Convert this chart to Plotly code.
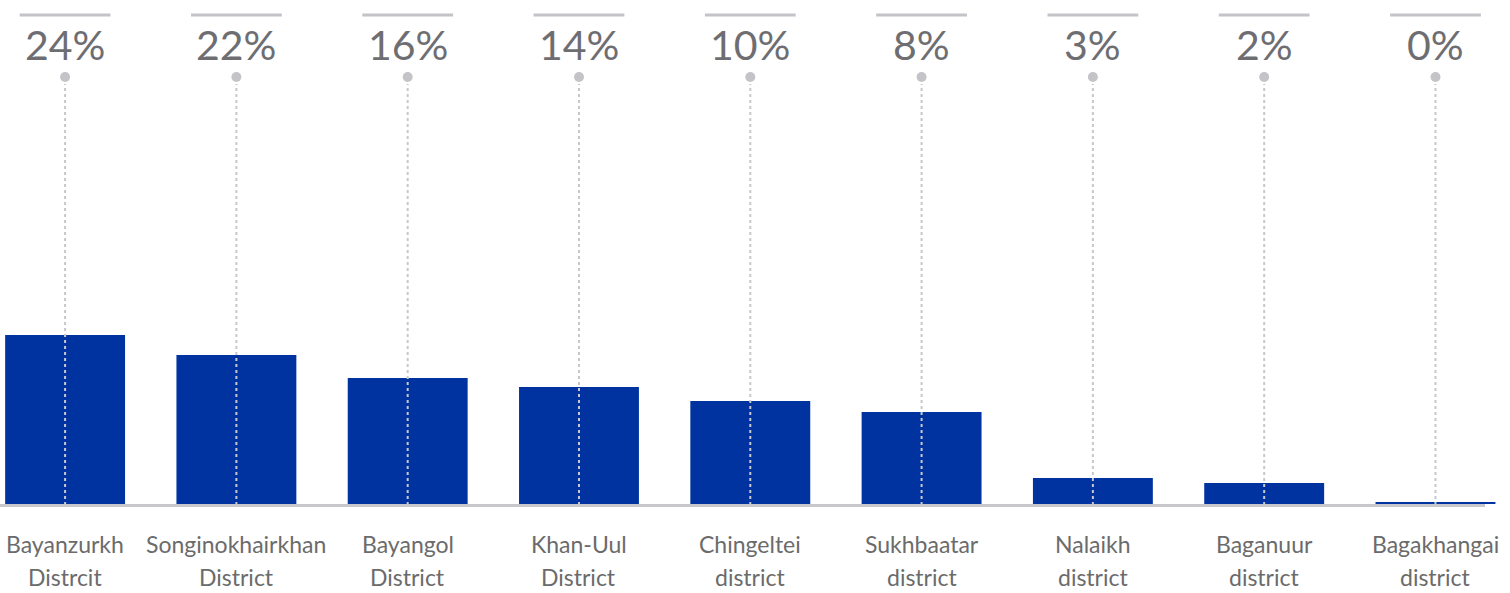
import plotly.graph_objects as go

# ---- data ----
districts = ["Bayanzurkh", "Songinokhairkhan", "Bayangol", "Khan-Uul", "Chingeltei",
             "Sukhbaatar", "Nalaikh", "Baganuur", "Bagakhangai"]
district_suffix = ["Distrcit", "District", "District", "District", "district",
                   "district", "district", "district", "district"]
bar_values = [169, 149, 126, 117, 103, 92, 26, 21, 2]
pct_labels = ["24%", "22%", "16%", "14%", "10%", "8%", "3%", "2%", "0%"]

# ---- styling ----
W, H = 1510, 593
M_B = 89
PLOT_H = H - M_B
BAR_COLOR = "#0033a0"
GREY_LINE = "#c4c4c8"
TEXT_GREY = "#6e6e72"
LABEL_GREY = "#6b6b6b"
FONT = "Lato"


def py(p):
    """pixel row -> paper y"""
    return (PLOT_H - p) / PLOT_H


fig = go.Figure()
fig.add_trace(go.Bar(x=districts, y=bar_values, marker=dict(color=BAR_COLOR, line=dict(width=0)),
                     hoverinfo="skip", showlegend=False))

shapes = []
annotations = []
for i, (d, s, p) in enumerate(zip(districts, district_suffix, pct_labels)):
    # dotted vertical guide
    shapes.append(dict(type="line", xref="x", yref="paper", x0=i, x1=i,
                       y0=py(505), y1=py(84), layer="above",
                       line=dict(color="#c8c8cc", width=2, dash="dot")))
    # top grey rule
    shapes.append(dict(type="line", xref="x", yref="paper", x0=i - 0.265, x1=i + 0.265,
                       y0=py(15), y1=py(15), layer="above",
                       line=dict(color=GREY_LINE, width=3)))
    # dot
    shapes.append(dict(type="circle", xref="x", yref="paper", xsizemode="pixel", ysizemode="pixel",
                       xanchor=i, yanchor=py(77), x0=-5, x1=5, y0=-5, y1=5,
                       fillcolor=GREY_LINE, line=dict(width=0), layer="above"))
    annotations.append(dict(x=d, xref="x", y=py(44), yref="paper", text=p, showarrow=False,
                            xanchor="center", yanchor="middle",
                            font=dict(family=FONT, size=41, color=TEXT_GREY)))
    annotations.append(dict(x=d, xref="x", y=py(544), yref="paper", text=d, showarrow=False,
                            xanchor="center", yanchor="middle",
                            font=dict(family=FONT, size=23, color=LABEL_GREY)))
    annotations.append(dict(x=d, xref="x", y=py(577), yref="paper", text=s, showarrow=False,
                            xanchor="center", yanchor="middle",
                            font=dict(family=FONT, size=23, color=LABEL_GREY)))

# baseline
shapes.append(dict(type="line", xref="paper", yref="paper", x0=0, x1=1485 / W,
                   y0=py(505.5), y1=py(505.5), layer="above",
                   line=dict(color="#c8c8cc", width=3)))

fig.update_layout(
    width=W, height=H,
    margin=dict(l=0, r=0, t=0, b=M_B),
    paper_bgcolor="white", plot_bgcolor="white",
    bargap=0.3,
    xaxis=dict(type="category", range=[-0.38, 8.435], showticklabels=False,
               showgrid=False, zeroline=False, showline=False, ticks=""),
    yaxis=dict(range=[0, PLOT_H], visible=False, showgrid=False, zeroline=False),
    shapes=shapes, annotations=annotations,
    showlegend=False,
)

fig.write_html("out.html", config={"displayModeBar": False},
               post_script="document.body.style.margin='0';document.body.style.overflow='hidden';")
